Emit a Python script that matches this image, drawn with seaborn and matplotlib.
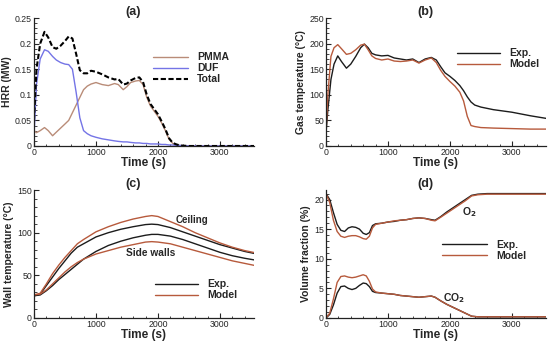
import numpy as np
import pandas as pd
import matplotlib
matplotlib.use("Agg")
import matplotlib.pyplot as plt
import seaborn as sns
from matplotlib.ticker import MultipleLocator

sns.set_style("ticks")
plt.rcParams["font.family"] = ["Liberation Sans", "DejaVu Sans"]

# ---- (a) heat release rate ----
t_hrr = [0, 40, 100, 170, 230, 300, 360, 430, 500, 560, 620, 680, 740, 800, 860, 920, 1000, 1100, 1200, 1300,
         1360, 1440, 1500, 1560, 1640, 1700, 1760, 1820, 1880, 1940, 2000, 2060, 2120, 2180, 2240, 2300, 2360, 2500, 3600]
hrr_pmma = [0.03, 0.026, 0.03, 0.036, 0.03, 0.02, 0.027, 0.035, 0.043, 0.05, 0.065, 0.08, 0.095, 0.11, 0.117, 0.121,
            0.124, 0.12, 0.118, 0.122, 0.12, 0.11, 0.116, 0.124, 0.127, 0.128, 0.12, 0.095, 0.078, 0.068, 0.058,
            0.045, 0.03, 0.013, 0.005, 0.002, 0.001, 0, 0]
hrr_duf = [0.02, 0.12, 0.17, 0.188, 0.185, 0.175, 0.168, 0.163, 0.160, 0.159, 0.150, 0.105, 0.055, 0.030, 0.024,
           0.020, 0.017, 0.014, 0.012, 0.010, 0.009, 0.008, 0.008, 0.007, 0.006, 0.006, 0.005, 0.005, 0.004,
           0.004, 0.004, 0.003, 0.003, 0.002, 0.002, 0.001, 0.001, 0.0, 0.0]
hrr_total = [0.05, 0.15, 0.2, 0.223, 0.212, 0.193, 0.19, 0.196, 0.205, 0.214, 0.21, 0.18, 0.148, 0.142, 0.142,
             0.147, 0.145, 0.14, 0.134, 0.13, 0.131, 0.12, 0.122, 0.128, 0.133, 0.134, 0.125, 0.1, 0.082, 0.072,
             0.062, 0.048, 0.033, 0.015, 0.006, 0.003, 0.001, 0, 0]

# ---- (b) gas temperature ----
t_gas = [0, 30, 80, 130, 190, 250, 330, 400, 480, 560, 620, 680, 740, 800, 900, 1000, 1100, 1200, 1300, 1400,
         1500, 1600, 1700, 1780, 1850, 1920, 2000, 2080, 2160, 2220, 2280, 2340, 2400, 2500, 2700, 3000, 3300, 3600]
gas_exp = [25, 70, 130, 160, 176, 165, 152, 160, 175, 192, 199, 192, 181, 178, 176, 177, 172, 170, 168, 170,
           163, 170, 173, 168, 155, 143, 136, 128, 118, 108, 96, 86, 80, 76, 71, 66, 59, 53]
gas_model = [25, 100, 175, 192, 198, 190, 179, 181, 188, 197, 199, 188, 176, 171, 168, 170, 166, 165, 166, 168,
             162, 168, 172, 163, 148, 136, 126, 117, 105, 88, 58, 40, 38, 36, 35, 34, 33, 33]

# ---- (c) wall temperature ----
t_wall = [0, 100, 200, 300, 400, 500, 600, 700, 800, 1000, 1200, 1400, 1600, 1800, 1900, 2000, 2200, 2400,
          2600, 2800, 3000, 3200, 3400, 3600]
ceil_exp = [26, 28, 38, 48, 58, 67, 76, 83, 87, 95, 100, 104, 107, 109.5, 110, 109.5, 106, 101, 96, 91, 86, 82, 78, 75]
ceil_model = [27, 29, 40, 52, 62, 71, 79, 87, 92, 101, 107, 112, 116, 119, 120, 119, 113, 107, 100, 94, 88, 83, 79, 76]
side_exp = [26, 27, 32, 38, 45, 51, 57, 63, 69, 78, 85, 90, 94, 97, 98, 98, 96, 92, 87, 82, 77, 73, 70, 67.5]
side_model = [27, 28, 33, 40, 47, 54, 60, 65, 69, 75, 79, 83, 86, 89, 89.5, 89, 87, 83, 79, 75, 71, 67, 64, 61]

# ---- (d) gas species ----
t_sp = [0, 60, 120, 180, 240, 300, 360, 420, 480, 540, 600, 650, 700, 750, 800, 900, 1000, 1100, 1200, 1300,
        1400, 1500, 1600, 1700, 1760, 1850, 1950, 2050, 2150, 2250, 2350, 2450, 2600, 3000, 3600]
o2_exp = [21, 20, 17.8, 15.8, 14.8, 14.6, 15.2, 15.4, 15.3, 15.0, 14.3, 14.1, 14.4, 15.6, 15.9, 16.0, 16.2, 16.3,
          16.5, 16.6, 16.8, 16.9, 16.8, 16.6, 16.5, 17.1, 17.9, 18.6, 19.3, 20.0, 20.7, 20.9, 21.0, 21.0, 21.0]
o2_model = [21, 19.5, 16.5, 14.6, 13.8, 13.6, 13.8, 13.9, 13.9, 13.7, 13.4, 13.3, 13.8, 15.2, 15.8, 16.0, 16.2,
            16.4, 16.5, 16.6, 16.8, 16.9, 16.8, 16.5, 16.4, 17.0, 17.7, 18.4, 19.1, 19.8, 20.6, 20.8, 20.9, 20.9, 20.9]
co2_exp = [0, 0.6, 2.2, 4.2, 5.3, 5.4, 5.0, 4.8, 5.0, 5.5, 5.9, 5.8, 5.3, 4.5, 4.3, 4.2, 4.1, 4.0, 3.8, 3.7,
           3.6, 3.5, 3.6, 3.7, 3.5, 2.9, 2.3, 1.8, 1.3, 0.8, 0.3, 0.2, 0.2, 0.2, 0.2]
co2_model = [0, 0.8, 3.2, 6.0, 7.0, 7.1, 6.9, 6.8, 6.9, 7.1, 7.3, 7.1, 6.2, 4.9, 4.4, 4.2, 4.1, 4.0, 3.8, 3.7,
             3.6, 3.5, 3.6, 3.7, 3.5, 2.9, 2.3, 1.8, 1.3, 0.8, 0.3, 0.2, 0.2, 0.2, 0.2]

c_exp = "#1c1c1c"
c_model = "#b75a3c"
c_pmma = "#b98c78"
c_duf = "#7474e6"

fig = plt.figure(figsize=(5.5, 3.44), dpi=100)
ax_a = fig.add_axes([0.0618, 0.5756, 0.40, 0.372])
ax_b = fig.add_axes([0.5927, 0.5756, 0.40, 0.372])
ax_c = fig.add_axes([0.0618, 0.0756, 0.40, 0.372])
ax_d = fig.add_axes([0.5927, 0.0756, 0.40, 0.372])

lw = 1.0
# (a)
sns.lineplot(x=t_hrr, y=hrr_pmma, ax=ax_a, color=c_pmma, lw=lw, label="PMMA")
sns.lineplot(x=t_hrr, y=hrr_duf, ax=ax_a, color=c_duf, lw=lw, label="DUF")
sns.lineplot(x=t_hrr, y=hrr_total, ax=ax_a, color="black", lw=1.5, ls=(0, (2.5, 1.2)), label="Total")
# (b)
sns.lineplot(x=t_gas, y=gas_exp, ax=ax_b, color=c_exp, lw=lw, label="Exp.")
sns.lineplot(x=t_gas, y=gas_model, ax=ax_b, color=c_model, lw=lw, label="Model")
# (c)
sns.lineplot(x=t_wall, y=ceil_exp, ax=ax_c, color=c_exp, lw=lw, label="Exp.")
sns.lineplot(x=t_wall, y=ceil_model, ax=ax_c, color=c_model, lw=lw, label="Model")
sns.lineplot(x=t_wall, y=side_exp, ax=ax_c, color=c_exp, lw=lw)
sns.lineplot(x=t_wall, y=side_model, ax=ax_c, color=c_model, lw=lw)
# (d)
sns.lineplot(x=t_sp, y=o2_exp, ax=ax_d, color=c_exp, lw=lw, label="Exp.")
sns.lineplot(x=t_sp, y=o2_model, ax=ax_d, color=c_model, lw=lw, label="Model")
sns.lineplot(x=t_sp, y=co2_exp, ax=ax_d, color=c_exp, lw=lw)
sns.lineplot(x=t_sp, y=co2_model, ax=ax_d, color=c_model, lw=lw)

settings = [
    (ax_a, "(a)", "HRR (MW)", (0, 0.25), 0.05, 0.01, (0.523, 0.765), 3.3),
    (ax_b, "(b)", "Gas temperature (\u00b0C)", (0, 250), 50, 10, (0.577, 0.795), 4.1),
    (ax_c, "(c)", "Wall temperature (\u00b0C)", (0, 150), 50, 10, (0.532, 0.335), 4.1),
    (ax_d, "(d)", "Volume fraction (%)", (0, 21.6), 5, 1, (0.509, 0.645), 4.3),
]
for ax, title, ylab, ylim, maj, mnr, legpos, hl in settings:
    ax.set_xlim(0, 3550)
    ax.set_ylim(*ylim)
    ax.xaxis.set_major_locator(MultipleLocator(1000))
    ax.xaxis.set_minor_locator(MultipleLocator(200))
    ax.yaxis.set_major_locator(MultipleLocator(maj))
    ax.yaxis.set_minor_locator(MultipleLocator(mnr))
    ax.tick_params(which="major", direction="in", length=3.5, width=0.8, labelsize=6.3, pad=1.5)
    ax.tick_params(which="minor", direction="in", length=1.8, width=0.6)
    sns.despine(ax=ax)
    for s in ["left", "bottom"]:
        ax.spines[s].set_color("#222222")
        ax.spines[s].set_linewidth(0.9)
    ax.set_xlabel("Time (s)", fontsize=8.5, fontweight="bold", labelpad=0)
    ax.set_ylabel(ylab, fontsize=7.5, fontweight="bold", labelpad=2)
    ax.text(0.45, 1.05, title, transform=ax.transAxes, ha="center", va="center",
            fontsize=9, fontweight="bold")
    ax.legend(loc="upper left", bbox_to_anchor=legpos, frameon=False,
              prop={"size": 7.5, "weight": "bold"}, handlelength=hl,
              handletextpad=0.9, labelspacing=0.1, borderaxespad=0)

ax_a.yaxis.set_major_formatter(matplotlib.ticker.FuncFormatter(lambda v, p: f"{v:g}"))

ax_c.text(2280, 115, "Ceiling", fontsize=7, fontweight="bold", va="center")
ax_c.text(1480, 76, "Side walls", fontsize=7.3, fontweight="bold", va="center")
ax_d.text(2200, 17.8, "O$_\\mathbf{2}$", fontsize=7.5, fontweight="bold", va="center")
ax_d.text(1890, 3.3, "CO$_\\mathbf{2}$", fontsize=7.5, fontweight="bold", va="center")

fig.savefig("out.png", dpi=100)
